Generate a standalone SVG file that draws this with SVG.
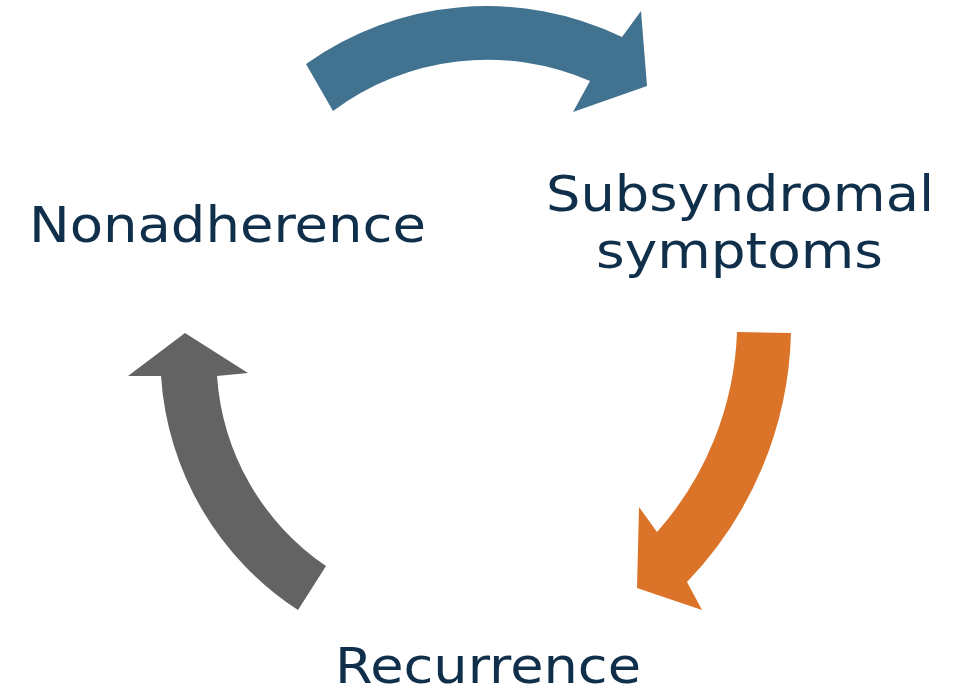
<svg xmlns="http://www.w3.org/2000/svg" width="958" height="688" viewBox="0 0 958 688">
<style>
.lbl{font-family:"DejaVu Sans","Liberation Sans",sans-serif;font-size:50px;fill:#0f2f4b;}
</style>
<rect width="958" height="688" fill="#ffffff"/>
<g id="connectors">
<path id="arrow-blue" fill="#41728f" d="M306,64 A311,311 0 0,1 622,37 L641,11 L647,86 L573,112 L590,81 A258,258 0 0,0 333,111 Z"/>
<path id="arrow-orange" fill="#db7428" d="M737,332 L791,333 A372,372 0 0,1 687,582 L702,610 L637,588 L639,507 L657,532 A318,318 0 0,0 737,332 Z"/>
<path id="arrow-gray" fill="#636363" d="M185,333 L248,373 L217,376 A250,250 0 0,0 326,566 L298,610 A303,303 0 0,1 161,376 L128,376 Z"/>
</g>
<g id="node-nonadherence"><text class="lbl" x="29" y="242" textLength="397" lengthAdjust="spacingAndGlyphs">Nonadherence</text></g>
<g id="node-subsyndromal"><text class="lbl" x="546" y="211" textLength="388" lengthAdjust="spacingAndGlyphs">Subsyndromal</text><text class="lbl" x="596" y="268" textLength="287" lengthAdjust="spacingAndGlyphs">symptoms</text></g>
<g id="node-recurrence"><text class="lbl" x="335" y="683" textLength="306" lengthAdjust="spacingAndGlyphs">Recurrence</text></g>
</svg>
